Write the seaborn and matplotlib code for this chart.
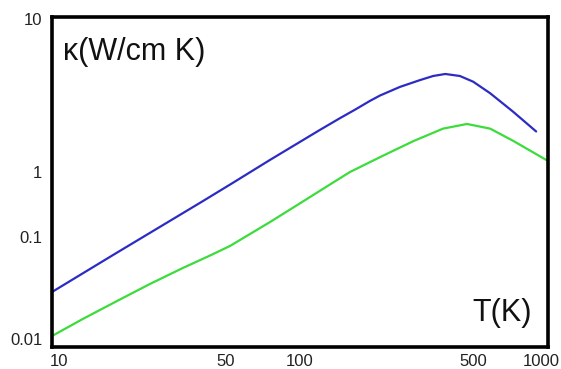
import numpy as np
import pandas as pd
import matplotlib
matplotlib.use("Agg")
import matplotlib.pyplot as plt
import matplotlib.transforms as mtrans
from matplotlib.ticker import NullLocator
import seaborn as sns

# curves (T in K, kappa in W/cm K)
blue_T = [10, 18, 27.8, 40, 53.7, 75.7, 120, 145, 167, 191, 210, 253, 305, 344, 385,
          441, 499, 584, 722, 895]
blue_k = [0.0289, 0.0687, 0.150, 0.345, 0.684, 1.20, 1.88, 2.25, 2.56, 2.91, 3.16,
          3.60, 3.99, 4.24, 4.37, 4.24, 3.89, 3.27, 2.48, 1.84]
green_T = [10, 13.3, 18.3, 24.8, 33.7, 43.4, 52.2, 62.8, 75.7, 91.2, 109.7, 132, 159,
           210, 286, 377, 471, 584, 722, 1000]
green_k = [0.0107, 0.0157, 0.0236, 0.0346, 0.0497, 0.0659, 0.0817, 0.111, 0.170,
           0.265, 0.412, 0.642, 1.0, 1.25, 1.59, 1.92, 2.06, 1.92, 1.60, 1.18]

x_ticks = [10, 50, 100, 500, 1000]
x_labels = ["10", "50", "100", "500", "1000"]
y_ticks = [0.01, 0.1, 1, 10]
y_labels = ["0.01", "0.1", "1", "10"]

sns.set_theme(style="white")
plt.rcParams['font.family'] = ['Liberation Sans', 'DejaVu Sans']

df = pd.concat([
    pd.DataFrame({"T": blue_T, "k": blue_k, "s": "a"}),
    pd.DataFrame({"T": green_T, "k": green_k, "s": "b"}),
])

fig = plt.figure(figsize=(5.61, 3.69), dpi=100)
ax = fig.add_axes([0.0927, 0.0596, 0.8843, 0.8944])

sns.lineplot(data=df, x="T", y="k", hue="s", palette=["#2c2cc4", "#3cdc3c"],
             linewidth=1.6, legend=False, ax=ax)

# the drawing's y axis is not evenly spaced per decade; mimic it
kn_log = np.array([-3, -2, -1, 0, 1, 2])
kn_pix = np.array([-94, 8, 110, 175, 328, 481])

def fwd(v):
    return np.interp(np.log10(np.clip(v, 1e-12, None)), kn_log, kn_pix)

def inv(p):
    return 10 ** np.interp(p, kn_pix, kn_log)

ax.set_yscale("function", functions=(fwd, inv))
ax.set_xscale("log")
ax.set_xlim(10, 1000)
ax.set_ylim(inv(0), inv(330))

ax.set_xticks(x_ticks, labels=x_labels)
ax.set_yticks(y_ticks, labels=y_labels)
ax.xaxis.set_minor_locator(NullLocator())
ax.yaxis.set_minor_locator(NullLocator())
ax.tick_params(axis="both", length=0, labelsize=12, colors="#222222")
ax.tick_params(axis="x", pad=5)
ax.tick_params(axis="y", pad=7)
ax.set_xlabel("")
ax.set_ylabel("")

xl = ax.get_xticklabels()
xl[0].set_transform(xl[0].get_transform() + mtrans.ScaledTranslation(0.07, 0, fig.dpi_scale_trans))
xl[-1].set_transform(xl[-1].get_transform() + mtrans.ScaledTranslation(-0.07, 0, fig.dpi_scale_trans))

for sp in ax.spines.values():
    sp.set_visible(True)
    sp.set_color("black")
    sp.set_linewidth(2.6)

ax.text(0.022, 0.895, "κ(W/cm K)", transform=ax.transAxes, fontsize=22,
        ha="left", va="center", color="#111111")
ax.text(0.968, 0.103, "T(K)", transform=ax.transAxes, fontsize=22,
        ha="right", va="center", color="#111111")

fig.savefig("out.png", dpi=100)
